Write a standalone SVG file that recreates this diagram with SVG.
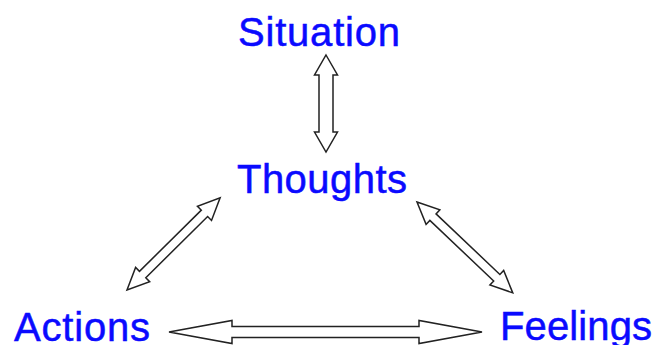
<svg xmlns="http://www.w3.org/2000/svg" width="656" height="345" viewBox="0 0 656 345">
<style>
.lbl{font-family:"Liberation Sans",Arial,sans-serif;font-size:40px;fill:#0a0aff;stroke:#0a0aff;stroke-width:0.5}
.arr{fill:#fff;stroke:#222;stroke-width:1.5;stroke-linejoin:miter}
</style>
<rect width="656" height="345" fill="#fff"/>
<g id="connectors">
<polygon class="arr" transform="translate(326,55) rotate(90)" points="0,0 20,-11.5 20,-7 77,-7 77,-11.5 97,0 77,11.5 77,7 20,7 20,11.5"/>
<polygon class="arr" transform="translate(127,290) rotate(-44.7)" points="0,0 22,-10 22,-4.5 109,-4.5 109,-10 131,0 109,10 109,4.5 22,4.5 22,10"/>
<polygon class="arr" transform="translate(417,202) rotate(43.5)" points="0,0 22,-10 22,-4.5 110,-4.5 110,-10 132,0 110,10 110,4.5 22,4.5 22,10"/>
<polygon class="arr" transform="translate(169,332)" points="0,0 63,-11.5 63,-5.5 250,-5.5 250,-11.5 313,0 250,11.5 250,5.5 63,5.5 63,11.5"/>
</g>
<g id="situation"><text class="lbl" x="238" y="46" textLength="162" lengthAdjust="spacing">Situation</text></g>
<g id="thoughts"><text class="lbl" x="237" y="193" textLength="170" lengthAdjust="spacing">Thoughts</text></g>
<g id="actions"><text class="lbl" x="14" y="341" textLength="136" lengthAdjust="spacing">Actions</text></g>
<g id="feelings"><text class="lbl" x="500" y="340" textLength="152" lengthAdjust="spacing">Feelings</text></g>
</svg>
